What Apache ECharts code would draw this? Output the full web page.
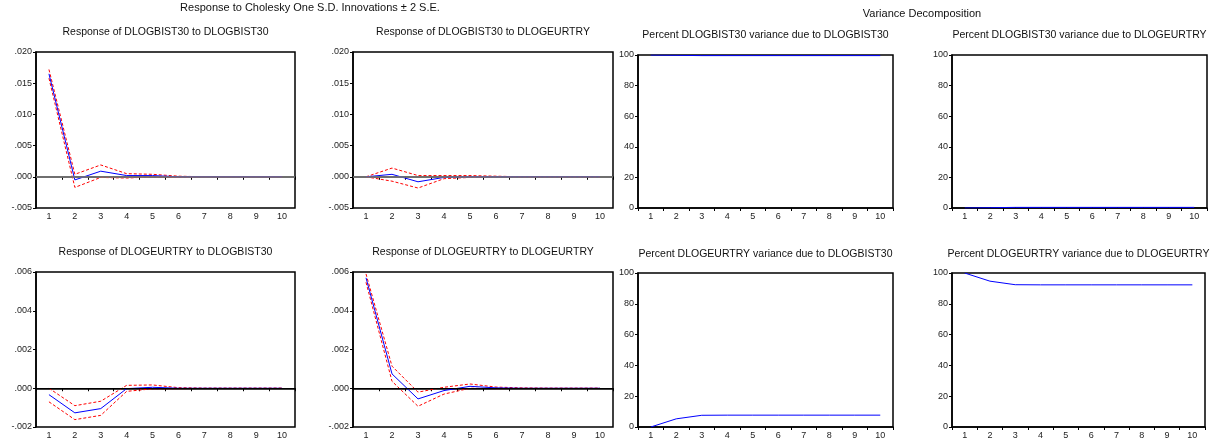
<!DOCTYPE html>
<html>
<head>
<meta charset="utf-8">
<script src="https://cdn.jsdelivr.net/npm/echarts@6/dist/echarts.min.js"></script>
<style>html,body{margin:0;padding:0;background:#fff}#c{width:1215px;height:445px}</style>
</head>
<body>
<div id="c"></div>
<script>
// ---- data ----
const periods = ['1','2','3','4','5','6','7','8','9','10'];

const titleImpulse = 'Response to Cholesky One S.D. Innovations \u00b1 2 S.E.';
const titleVariance = 'Variance Decomposition';
const panelTitles = [
  'Response of DLOGBIST30 to DLOGBIST30',
  'Response of DLOGBIST30 to DLOGEURTRY',
  'Percent DLOGBIST30 variance due to DLOGBIST30',
  'Percent DLOGBIST30 variance due to DLOGEURTRY',
  'Response of DLOGEURTRY to DLOGBIST30',
  'Response of DLOGEURTRY to DLOGEURTRY',
  'Percent DLOGEURTRY variance due to DLOGBIST30',
  'Percent DLOGEURTRY variance due to DLOGEURTRY'
];

// Impulse responses (mean, upper band, lower band)
const irfBistBist      = [0.0165, -0.0005, 0.0009, 0.0002, 0.0002, 0.0000, 0.0000, 0.0000, 0.0000, 0.0000];
const irfBistBistUp    = [0.0172, 0.0004, 0.0019, 0.0005, 0.0004, 0.0001, 0.0000, 0.0000, 0.0000, 0.0000];
const irfBistBistLo    = [0.0158, -0.0017, -0.0001, -0.0002, 0.0000, -0.0001, 0.0000, 0.0000, 0.0000, 0.0000];

const irfBistEur       = [0.0000, 0.0004, -0.0008, -0.0001, 0.0000, 0.0000, 0.0000, 0.0000, 0.0000, 0.0000];
const irfBistEurUp     = [0.0000, 0.0014, 0.0002, 0.0002, 0.0002, 0.0001, 0.0000, 0.0000, 0.0000, 0.0000];
const irfBistEurLo     = [0.0000, -0.0007, -0.0018, -0.0003, -0.0001, 0.0000, 0.0000, 0.0000, 0.0000, 0.0000];

const irfEurBist       = [-0.00033, -0.00127, -0.00105, -0.00002, 0.00005, 0.00000, 0.00000, 0.00000, 0.00000, 0.00000];
const irfEurBistUp     = [0.00000, -0.00090, -0.00067, 0.00015, 0.00017, 0.00003, 0.00001, 0.00001, 0.00001, 0.00001];
const irfEurBistLo     = [-0.00070, -0.00162, -0.00140, -0.00016, -0.00003, -0.00002, -0.00001, -0.00001, -0.00001, -0.00001];

const irfEurEur        = [0.00570, 0.00074, -0.00055, -0.00012, 0.00010, 0.00002, 0.00000, 0.00000, 0.00000, 0.00000];
const irfEurEurUp      = [0.00590, 0.00114, -0.00020, 0.00005, 0.00022, 0.00006, 0.00002, 0.00001, 0.00001, 0.00001];
const irfEurEurLo      = [0.00547, 0.00036, -0.00093, -0.00030, 0.00000, -0.00002, -0.00001, -0.00001, -0.00001, -0.00001];

// Variance decompositions (percent)
const vdBistBist = [100.0, 99.8, 99.6, 99.6, 99.6, 99.6, 99.6, 99.6, 99.6, 99.6];
const vdBistEur  = [0.0, 0.2, 0.4, 0.4, 0.4, 0.4, 0.4, 0.4, 0.4, 0.4];
const vdEurBist  = [0.0, 5.3, 7.6, 7.7, 7.7, 7.7, 7.7, 7.7, 7.7, 7.7];
const vdEurEur   = [100.0, 94.7, 92.4, 92.3, 92.3, 92.3, 92.3, 92.3, 92.3, 92.3];

// ---- layout ----
const FONT = '"Liberation Sans", Arial, sans-serif';
const grids = [
  {left: 36,  top: 52,  width: 259, height: 156},
  {left: 353, top: 52,  width: 260, height: 156},
  {left: 638, top: 55,  width: 255, height: 153},
  {left: 952, top: 55,  width: 255, height: 153},
  {left: 36,  top: 272, width: 259, height: 155},
  {left: 353, top: 272, width: 260, height: 155},
  {left: 638, top: 273, width: 255, height: 154},
  {left: 952, top: 273, width: 253, height: 154}
];
const yRanges = [
  {min: -0.005, max: 0.02, interval: 0.005},
  {min: -0.005, max: 0.02, interval: 0.005},
  {min: 0, max: 100, interval: 20},
  {min: 0, max: 100, interval: 20},
  {min: -0.002, max: 0.006, interval: 0.002},
  {min: -0.002, max: 0.006, interval: 0.002},
  {min: 0, max: 100, interval: 20},
  {min: 0, max: 100, interval: 20}
];
const titleY = [32, 32, 35, 35, 252, 252, 254, 254];

function fmtIrf(v) {
  const s = Math.abs(v).toFixed(3).replace(/^0/, '');
  return (v < -1e-9 ? '-' : '') + s;
}

const option = {
  animation: false,
  backgroundColor: '#fff',
  textStyle: {fontFamily: FONT},
  grid: grids.map(g => Object.assign({show: true, borderColor: '#000', borderWidth: 1.5, backgroundColor: '#fff'}, g)),
  xAxis: grids.map((g, i) => ({
    type: 'category', gridIndex: i, data: periods, boundaryGap: true,
    axisLine: {lineStyle: {color: '#000', width: 1.5}},
    axisTick: {show: true, interval: 0, alignWithLabel: false, length: 3, lineStyle: {color: '#000'}},
    axisLabel: {interval: 0, fontSize: 9, color: '#222', margin: 4, fontFamily: FONT},
    splitLine: {show: false}
  })),
  yAxis: grids.map((g, i) => ({
    type: 'value', gridIndex: i, min: yRanges[i].min, max: yRanges[i].max, interval: yRanges[i].interval,
    axisLine: {show: true, lineStyle: {color: '#000', width: 1.5}},
    axisTick: {show: true, length: 3, lineStyle: {color: '#000'}},
    axisLabel: {fontSize: 9, color: '#222', margin: 4, fontFamily: FONT,
      formatter: (i === 2 || i === 3 || i === 6 || i === 7) ? (v => String(Math.round(v))) : fmtIrf},
    splitLine: {show: false}
  })),
  graphic: [],
  series: []
};

// titles
option.graphic = [
  {type: 'text', x: 310, y: 8, style: {text: titleImpulse, font: '11px ' + FONT, fill: '#111', align: 'center', verticalAlign: 'middle'}},
  {type: 'text', x: 922, y: 14, style: {text: titleVariance, font: '11px ' + FONT, fill: '#111', align: 'center', verticalAlign: 'middle'}}
];
grids.forEach((g, i) => {
  option.graphic.push({type: 'text', x: g.left + g.width / 2, y: titleY[i],
    style: {text: panelTitles[i], font: '10.5px ' + FONT, fill: '#111', align: 'center', verticalAlign: 'middle'}});
});

const irfSets = [
  [irfBistBist, irfBistBistUp, irfBistBistLo, 0],
  [irfBistEur, irfBistEurUp, irfBistEurLo, 1],
  [irfEurBist, irfEurBistUp, irfEurBistLo, 4],
  [irfEurEur, irfEurEurUp, irfEurEurLo, 5]
];
irfSets.forEach(([mid, up, lo, gi]) => {
  const top = gi < 2;
  option.series.push({
    type: 'line', xAxisIndex: gi, yAxisIndex: gi, data: [], z: 1, silent: true,
    markLine: {silent: true, symbol: ['none', 'none'], label: {show: false},
      lineStyle: {color: top ? '#808080' : '#000', width: top ? 1.6 : 1, type: 'solid'},
      data: [{yAxis: 0}]}
  });
  [up, lo].forEach(d => option.series.push({
    type: 'line', xAxisIndex: gi, yAxisIndex: gi, data: d, symbol: 'none', z: 3,
    lineStyle: {color: '#ff0000', width: 1, type: [3, 2]}
  }));
  option.series.push({
    type: 'line', xAxisIndex: gi, yAxisIndex: gi, data: mid, symbol: 'none', z: 4,
    lineStyle: {color: '#0000ff', width: 1}
  });
});

[[vdBistBist, 2], [vdBistEur, 3], [vdEurBist, 6], [vdEurEur, 7]].forEach(([d, gi]) => {
  option.series.push({
    type: 'line', xAxisIndex: gi, yAxisIndex: gi, data: d, symbol: 'none', z: 4,
    lineStyle: {color: '#0000ff', width: 1}
  });
});

const chart = echarts.init(document.getElementById('c'), null, {renderer: 'canvas'});
chart.setOption(option);
</script>
</body>
</html>
